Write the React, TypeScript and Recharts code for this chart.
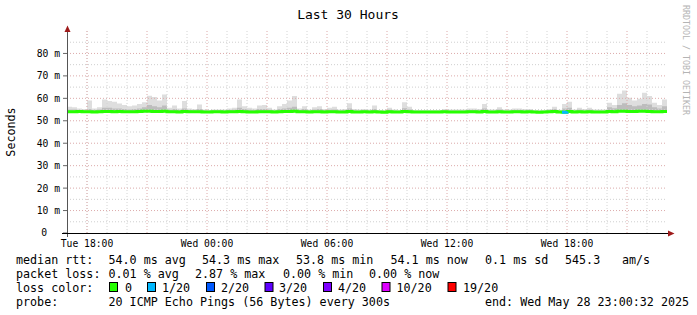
import { ComposedChart, Area, Line, XAxis, YAxis, ReferenceLine } from 'recharts'

const FONT = '"DejaVu Sans Mono", monospace'

// 15 minute slots, Tue 17:00 .. Wed 23:00
const STEP_H = 0.25
const SPAN_H = 30

const tickHours = [1, 7, 13, 19, 25]
const tickLabels = ['Tue 18:00', 'Wed 00:00', 'Wed 06:00', 'Wed 12:00', 'Wed 18:00']
const yTicks = [0, 10, 20, 30, 40, 50, 60, 70, 80]
const minorY = [5, 15, 25, 35, 45, 55, 65, 75, 85]
const hourLines = [1, 2, 3, 5, 6, 8, 9, 11, 12, 14, 15, 17, 18, 20, 21, 23, 24, 26, 27, 29]
const threeHourLines = [1, 4, 7, 10, 13, 16, 19, 22, 25, 28]

// top of the smoke (ms)
const maxPing = [
  56.2, 56.0, 55.5, 55.3, 59.0, 55.5, 56.0, 59.5, 58.8, 58.5,
  57.7, 57.0, 56.5, 56.8, 57.5, 58.2, 61.2, 60.6, 59.0, 61.7,
  55.8, 56.8, 55.5, 58.8, 55.5, 55.3, 57.3, 55.0, 54.8, 55.0,
  55.0, 55.0, 55.5, 55.8, 59.5, 56.5, 55.8, 55.5, 56.8, 57.0,
  55.8, 55.0, 56.5, 57.5, 59.0, 61.0, 55.5, 56.5, 55.0, 56.0,
  56.5, 55.3, 55.8, 56.2, 55.0, 55.3, 57.8, 55.2, 55.0, 55.2,
  55.0, 56.8, 54.8, 54.8, 55.8, 55.0, 54.8, 58.2, 56.2, 54.8,
  54.8, 54.8, 54.8, 54.8, 54.8, 55.2, 55.0, 55.0, 55.0, 55.0,
  55.5, 55.5, 55.2, 57.5, 55.0, 55.0, 56.0, 55.0, 55.0, 55.5,
  55.5, 55.2, 55.2, 54.8, 54.8, 54.8, 55.3, 56.2, 54.9, 57.5,
  58.5, 55.0, 55.8, 55.2, 55.8, 55.0, 55.0, 55.0, 58.0, 57.0,
  62.0, 63.5, 60.3, 59.0, 59.8, 62.5, 61.0, 58.0, 57.0, 59.5,
]

// denser part of the smoke (ms)
const midPing = [
  55.0, 55.0, 54.8, 54.7, 55.3, 54.8, 55.0, 55.8, 55.8, 55.5,
  55.5, 55.2, 55.0, 55.2, 55.5, 56.0, 57.0, 56.5, 56.0, 56.8,
  54.9, 55.3, 54.8, 55.5, 54.8, 54.7, 55.3, 54.6, 54.5, 54.6,
  54.6, 54.6, 54.8, 54.9, 55.8, 55.2, 54.9, 54.8, 55.3, 55.3,
  54.9, 54.6, 55.2, 55.5, 55.8, 56.2, 54.8, 55.2, 54.6, 55.0,
  55.2, 54.7, 54.9, 55.0, 54.6, 54.7, 55.5, 54.6, 54.5, 54.6,
  54.5, 55.2, 54.4, 54.4, 54.9, 54.5, 54.4, 55.6, 55.0, 54.4,
  54.4, 54.4, 54.4, 54.4, 54.4, 54.6, 54.5, 54.5, 54.5, 54.5,
  54.8, 54.8, 54.6, 55.5, 54.5, 54.5, 55.0, 54.5, 54.5, 54.8,
  54.8, 54.6, 54.6, 54.4, 54.4, 54.4, 54.7, 55.2, 54.5, 55.5,
  55.8, 54.5, 54.9, 54.6, 54.9, 54.5, 54.5, 54.5, 56.0, 55.6,
  57.0, 57.8, 57.0, 56.5, 56.8, 57.5, 57.2, 56.0, 55.5, 56.5,
]

// median rtt (ms)
const medianRtt = [
  54.0, 54.0, 54.1, 54.0, 54.0, 53.9, 54.0, 54.1, 54.1, 54.0,
  54.1, 54.0, 54.0, 54.0, 54.1, 54.2, 54.3, 54.1, 54.1, 54.2,
  54.0, 54.0, 53.9, 54.1, 54.0, 54.0, 54.0, 53.9, 53.9, 54.0,
  54.0, 53.9, 54.0, 54.0, 54.1, 54.0, 53.9, 53.9, 54.0, 54.0,
  54.0, 53.9, 54.0, 54.1, 54.1, 54.2, 54.0, 54.0, 53.9, 54.0,
  54.0, 53.9, 54.0, 54.0, 53.9, 53.9, 54.1, 53.9, 53.9, 54.0,
  53.9, 54.0, 53.9, 53.8, 54.0, 53.9, 53.9, 54.1, 54.0, 53.9,
  53.9, 53.9, 53.9, 53.9, 53.9, 54.0, 53.9, 53.9, 53.9, 53.9,
  54.0, 54.0, 53.9, 54.1, 53.9, 53.9, 54.0, 53.9, 53.9, 54.0,
  54.0, 53.9, 54.0, 53.9, 53.8, 53.9, 54.0, 54.1, 53.9, 53.8,
  54.1, 53.9, 54.0, 53.9, 54.0, 53.9, 53.9, 53.9, 54.1, 54.0,
  54.2, 54.3, 54.1, 54.1, 54.2, 54.2, 54.1, 54.0, 54.0, 54.1,
]

// slots with 1/20 loss
const lossSlots = [99]

const lossLegend = [
  { label: '0', color: '#26ff00', box: 109.5, text: 125 },
  { label: '1/20', color: '#00b8ff', box: 147.5, text: 162 },
  { label: '2/20', color: '#0059ff', box: 206.5, text: 221 },
  { label: '3/20', color: '#5e00ff', box: 265, text: 279 },
  { label: '4/20', color: '#7e00ff', box: 323.5, text: 338 },
  { label: '10/20', color: '#dd00ff', box: 382, text: 396.5 },
  { label: '19/20', color: '#ff0000', box: 448, text: 463 },
]

const data = medianRtt.map((m, i) => ({
  t: i * STEP_H,
  median: m,
  max: maxPing[i],
  mid: midPing[i],
  loss1: lossSlots.includes(i) || lossSlots.includes(i - 1) ? m : null,
}))
data.push({ ...data[data.length - 1], t: SPAN_H, loss1: null })

const YTick = ({ x, y, payload }: any) => (
  <text
    x={payload.value === 0 ? x - 13 : x}
    y={y}
    dy='0.35em'
    textAnchor='end'
    fontSize={9.7}
    fontFamily={FONT}
    fill='#000'
  >
    {payload.value === 0 ? '0' : `${payload.value} m`}
  </text>
)

const T = ({ x, y, children, size = 11.7, fill = '#000' }: any) => (
  <text x={x} y={y} fontSize={size} fontFamily={FONT} fill={fill} style={{ whiteSpace: 'pre' }}>
    {children}
  </text>
)

export default function App() {
  return (
    <div style={{ position: 'absolute', left: 0, top: 0, width: 697, height: 315, background: '#fff' }}>
      <ComposedChart
        width={697}
        height={315}
        data={data}
        margin={{ top: 31, right: 30, bottom: 62, left: 0 }}
      >
        <XAxis
          dataKey='t'
          type='number'
          domain={[0, SPAN_H]}
          ticks={tickHours}
          interval={0}
          tickFormatter={(v: number) => tickLabels[tickHours.indexOf(v)]}
          axisLine={false}
          tickLine={false}
          tickMargin={1}
          height={20}
          tick={{ fontSize: 9.7, fontFamily: FONT, fill: '#000' }}
        />
        <YAxis
          type='number'
          domain={[0, 90]}
          ticks={yTicks}
          interval={0}
          width={67}
          axisLine={false}
          tickLine={{ stroke: '#666' }}
          tickSize={4}
          tickMargin={3}
          tick={<YTick />}
        />
        <Area
          dataKey={(d: any) => [d.median, d.max]}
          type='stepAfter'
          stroke='none'
          fill='#dedede'
          fillOpacity={1}
          isAnimationActive={false}
        />
        <Area
          dataKey={(d: any) => [d.median, d.mid]}
          type='stepAfter'
          stroke='none'
          fill='#bdbdbd'
          fillOpacity={1}
          isAnimationActive={false}
        />
        {minorY.map(v => (
          <ReferenceLine key={'my' + v} y={v} stroke='#cfcfcf' strokeDasharray='1 2' />
        ))}
        {yTicks.filter(v => v > 0).map(v => (
          <ReferenceLine key={'y' + v} y={v} stroke='#dcaaaa' strokeDasharray='1 2' />
        ))}
        {hourLines.map(v => (
          <ReferenceLine key={'h' + v} x={v} stroke='#d4d4d4' strokeDasharray='1 2' />
        ))}
        {threeHourLines.map(v => (
          <ReferenceLine key={'H' + v} x={v} stroke='#dcaaaa' strokeDasharray='1 2' />
        ))}
        <Line
          dataKey='median'
          type='stepAfter'
          stroke='#26ff00'
          strokeWidth={3}
          dot={false}
          isAnimationActive={false}
        />
        <Line
          dataKey='loss1'
          type='stepAfter'
          stroke='#00b8ff'
          strokeWidth={3}
          dot={false}
          connectNulls={false}
          isAnimationActive={false}
        />
      </ComposedChart>

      <svg width={697} height={315} style={{ position: 'absolute', left: 0, top: 0, pointerEvents: 'none' }}>
        {/* axes + arrows */}
        <line x1={67.5} y1={237} x2={67.5} y2={30} stroke='#555' />
        <line x1={62} y1={233.5} x2={669} y2={233.5} stroke='#000' />
        <polygon points='67.5,25.5 64.5,32 70.5,32' fill='#9e1a1a' />
        <polygon points='674.5,233.5 668,230.5 668,236.5' fill='#9e1a1a' />

        <text x={348} y={18.5} textAnchor='middle' fontSize={13} fontFamily={FONT} fill='#000'>Last 30 Hours</text>
        <text
          x={0}
          y={0}
          transform='translate(15,132) rotate(-90)'
          textAnchor='middle'
          fontSize={11.7}
          fontFamily={FONT}
          fill='#000'
        >Seconds</text>
        <text
          x={0}
          y={0}
          transform='translate(683,5) rotate(90)'
          fontSize={8.3}
          fontFamily={FONT}
          fill='#b4b4b4'
        >RRDTOOL / TOBI OETIKER</text>

        <T x={16} y={263.5}>median rtt:</T>
        <T x={108.5} y={263.5}>54.0 ms avg</T>
        <T x={202} y={263.5}>54.3 ms max</T>
        <T x={296} y={263.5}>53.8 ms min</T>
        <T x={390.5} y={263.5}>54.1 ms now</T>
        <T x={485} y={263.5}>0.1 ms sd</T>
        <T x={565} y={263.5}>545.3</T>
        <T x={622} y={263.5}>am/s</T>

        <T x={16} y={277.5}>packet loss:</T>
        <T x={108.5} y={277.5}>0.01 % avg</T>
        <T x={195} y={277.5}>2.87 % max</T>
        <T x={283} y={277.5}>0.00 % min</T>
        <T x={369} y={277.5}>0.00 % now</T>

        <T x={16} y={291.5}>loss color:</T>
        {lossLegend.map(l => (
          <g key={l.label}>
            <rect x={l.box} y={282.5} width={8} height={9} fill={l.color} stroke='#000' />
            <T x={l.text} y={291.5}>{l.label}</T>
          </g>
        ))}

        <T x={16} y={305.5}>probe:</T>
        <T x={108.5} y={305.5}>20 ICMP Echo Pings (56 Bytes) every 300s</T>
        <T x={485} y={305.5}>end: Wed May 28 23:00:32 2025</T>
      </svg>
    </div>
  )
}
